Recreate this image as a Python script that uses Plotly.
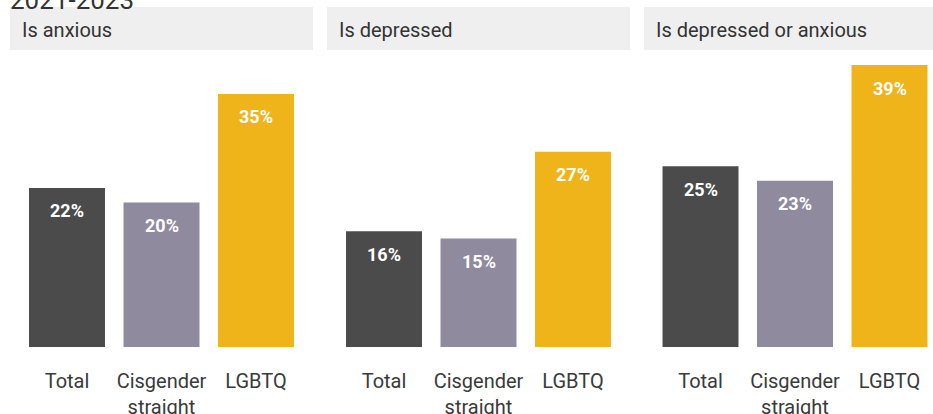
import plotly.graph_objects as go

categories = ["Total", "Cisgender<br>straight", "LGBTQ"]
panels = ["Is anxious", "Is depressed", "Is depressed or anxious"]
anxious = [22, 20, 35]
depressed = [16, 15, 27]
either = [25, 23, 39]
series = [anxious, depressed, either]
colors = ["#4b4b4b", "#8f8a9e", "#f0b41b"]
title = "2021-2023"

W, H = 933, 414
FONT = "Roboto"

def px(x):
    return x / W

def py(y):
    return (H - y) / H

fig = go.Figure()

domains = [(19.75, 303.25), (336.75, 620.25), (653.25, 933)]
ranges = [[-0.5, 2.5], [-0.5, 2.5], [-0.5, 2.5 - (936.75 - 933) / 94.5]]
headers = [(10, 313), (327, 630), (644, 960)]

for i, vals in enumerate(series):
    xa = "x" if i == 0 else f"x{i+1}"
    ya = "y" if i == 0 else f"y{i+1}"
    fig.add_trace(go.Bar(
        x=categories, y=vals, marker=dict(color=colors, line=dict(width=0)),
        xaxis=xa, yaxis=ya, showlegend=False, hoverinfo="skip",
    ))
    for c, v in zip(categories, vals):
        fig.add_annotation(
            x=c, y=v, xref=xa, yref=ya, text=f"<b>{v}%</b>", showarrow=False,
            yanchor="middle", yshift=-23,
            font=dict(family=FONT, size=18, color="white"),
        )
    axkey = "xaxis" if i == 0 else f"xaxis{i+1}"
    aykey = "yaxis" if i == 0 else f"yaxis{i+1}"
    fig.layout[axkey] = dict(
        domain=[px(domains[i][0]), px(domains[i][1])], range=ranges[i],
        anchor=ya, showgrid=False, zeroline=False, showline=False,
        ticks="outside", ticklen=16, tickcolor="rgba(0,0,0,0)",
        tickfont=dict(family=FONT, size=20, color="#3a3a3a"),
        fixedrange=True, automargin=False,
    )
    fig.layout[aykey] = dict(
        domain=[py(347), py(50)], range=[0, 297 / 7.23], anchor=xa,
        visible=False, fixedrange=True, automargin=False,
    )
    x0, x1 = headers[i]
    fig.add_shape(type="rect", xref="paper", yref="paper",
                  x0=px(x0), x1=px(x1), y0=py(50), y1=py(7),
                  fillcolor="#efefef", line=dict(width=0), layer="below")
    fig.add_annotation(xref="paper", yref="paper", x=px(x0 + 10), y=py(30),
                       xanchor="left", yanchor="middle", text=panels[i],
                       showarrow=False,
                       font=dict(family=FONT, size=20, color="#333333"))

fig.add_annotation(xref="paper", yref="paper", x=px(8), y=py(0),
                   xanchor="left", yanchor="middle", text=title, showarrow=False,
                   font=dict(family=FONT, size=26, color="#333333"))

fig.update_layout(
    width=W, height=H, margin=dict(l=0, r=0, t=0, b=0, autoexpand=False),
    paper_bgcolor="white", plot_bgcolor="white", bargap=0.196,
    font=dict(family=FONT),
)

fig.write_html(
    "out.html",
    config={"responsive": False, "displayModeBar": False},
    post_script="document.body.style.margin='0';document.body.style.overflow='hidden';",
)
